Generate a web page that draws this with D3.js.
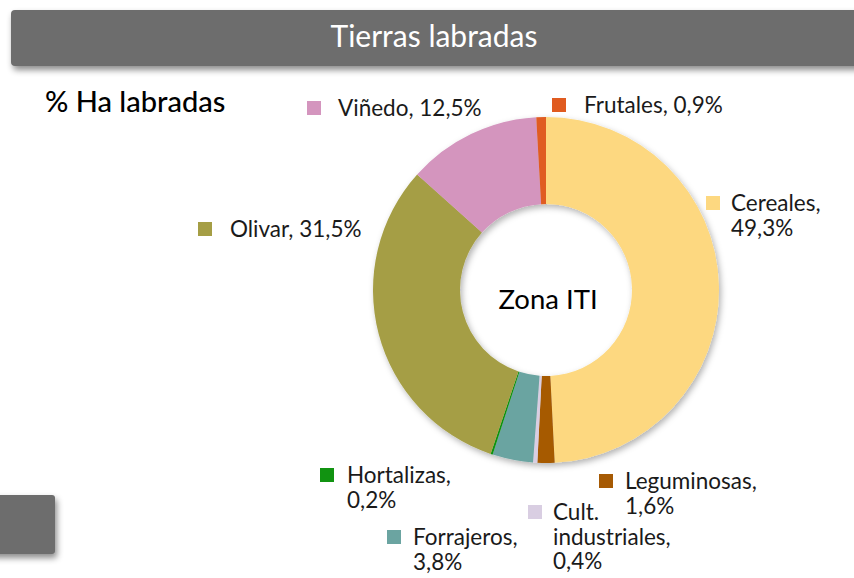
<!DOCTYPE html>
<html><head><meta charset="utf-8">
<script src="https://cdn.jsdelivr.net/npm/d3@7"></script>
<style>
html,body{margin:0;padding:0;background:#fff;}
svg{display:block;font-family:Lato,"Open Sans",sans-serif;}
</style></head>
<body>
<svg id="c" width="854" height="578"></svg>
<script>
const categories = ["Cereales","Leguminosas","Cult. industriales","Forrajeros","Hortalizas","Olivar","Viñedo","Frutales"];
const values = [49.3,1.6,0.4,3.8,0.2,31.5,12.5,0.9];
const valueLabels = ["49,3%","1,6%","0,4%","3,8%","0,2%","31,5%","12,5%","0,9%"];
const colors = ["#FDD880","#A65A04","#D9CEE2","#6BA4A1","#119311","#A59E45","#D495BE","#E05B20"];
// label layout: x of square, text offset, y of first baseline, line breaks
const labelLayout = [
  {x:706, dx:25, y:211, lines:["Cereales,","49,3%"]},
  {x:599, dx:26, y:489, lines:["Leguminosas,","1,6%"]},
  {x:528, dx:25, y:520, lines:["Cult.","industriales,","0,4%"]},
  {x:387, dx:26, y:545, lines:["Forrajeros,","3,8%"]},
  {x:320, dx:27, y:483, lines:["Hortalizas,","0,2%"]},
  {x:198, dx:32, y:237, lines:["Olivar, 31,5%"]},
  {x:307, dx:31, y:116, lines:["Viñedo, 12,5%"]},
  {x:552, dx:32, y:113, lines:["Frutales, 0,9%"]}
];

const svg = d3.select("#c");
const defs = svg.append("defs");
const f1 = defs.append("filter").attr("id","sh").attr("x","-20%").attr("y","-20%").attr("width","140%").attr("height","160%");
f1.append("feDropShadow").attr("dx",2).attr("dy",4).attr("stdDeviation",3).attr("flood-color","#000").attr("flood-opacity",0.45);
const f2 = defs.append("filter").attr("id","sh2").attr("x","-20%").attr("y","-20%").attr("width","140%").attr("height","140%");
f2.append("feDropShadow").attr("dx",2).attr("dy",3).attr("stdDeviation",3).attr("flood-color","#000").attr("flood-opacity",0.3);

// title bar
svg.append("rect").attr("x",11).attr("y",10).attr("width",860).attr("height",56).attr("rx",4)
  .attr("fill","#6D6D6D").attr("filter","url(#sh)");
svg.append("text").attr("x",434).attr("y",47).attr("text-anchor","middle")
  .attr("fill","#fff").attr("font-size",30).text("Tierras labradas");

// bottom-left box
svg.append("rect").attr("x",-10).attr("y",495).attr("width",65).attr("height",59).attr("rx",3)
  .attr("fill","#6D6D6D").attr("filter","url(#sh)");

// subtitle
svg.append("text").attr("x",45).attr("y",112).attr("fill","#000").attr("font-size",29).attr("font-weight",500)
  .text("% Ha labradas");

// donut
const cx=546, cy=290, R=173, r=86;
const pie = d3.pie().sort(null).value(d=>d).startAngle(0).endAngle(2*Math.PI);
const arc = d3.arc().innerRadius(r).outerRadius(R);
const g = svg.append("g").attr("transform",`translate(${cx},${cy})`);
g.append("g").attr("filter","url(#sh2)")
  .selectAll("path").data(pie(values)).join("path")
  .attr("d",arc).attr("fill",(d,i)=>colors[i]);

g.append("text").attr("x",2).attr("y",19).attr("text-anchor","middle").attr("font-size",27.5)
  .attr("fill","#000").text("Zona ITI");

// labels
const lg = svg.append("g");
labelLayout.forEach((L,i)=>{
  lg.append("rect").attr("x",L.x).attr("y",L.y-15).attr("width",14).attr("height",14).attr("fill",colors[i]);
  const t = lg.append("text").attr("x",L.x+L.dx).attr("y",L.y).attr("font-size",22.5).attr("fill","#1a1a1a");
  L.lines.forEach((ln,j)=>{
    t.append("tspan").attr("x",L.x+L.dx).attr("dy",j===0?0:24.7).text(ln);
  });
});
</script>
</body></html>
